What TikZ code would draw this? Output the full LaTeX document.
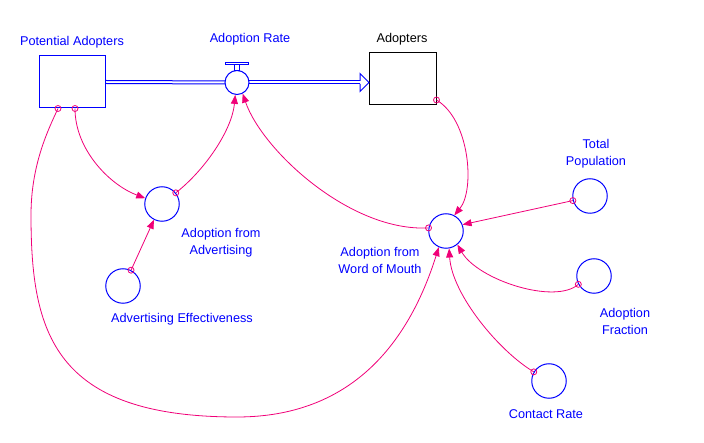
\documentclass[tikz,border=0pt]{standalone}
\usepackage{fontspec}
\setmainfont{Liberation Sans}
\usetikzlibrary{arrows.meta}
\definecolor{vblue}{RGB}{0,0,255}
\definecolor{vlink}{RGB}{240,0,120}
\begin{document}
\begin{tikzpicture}[x=1pt,y=-1pt,
  every node/.style={font=\fontsize{12.7}{17}\selectfont},
  stock/.style={draw=vblue, line width=1pt, minimum width=66pt, minimum height=52pt, inner sep=0pt},
  aux/.style={circle, draw=vblue, line width=1pt, minimum size=34.5pt, inner sep=0pt},
  valve/.style={circle, draw=vblue, fill=white, line width=1pt, minimum size=24pt, inner sep=0pt},
  lbl/.style={text=vblue, align=center, inner sep=0pt},
  pipe/.style={draw=vblue, line width=1pt},
  link/.style={draw=vlink, line width=0.8pt, -{Triangle[length=9pt,width=7pt]}},
  origin/.style={draw=vlink, line width=0.8pt}
]
\useasboundingbox (0,0) rectangle (704,443);

% stocks
\node[stock] (pa) at (72,82) {};
\node[stock, draw=black, minimum width=67pt] (ad) at (402.5,79) {};

% pipe
\coordinate (tip) at (369,82.5);
\draw[pipe] ([yshift=1.5pt]pa.east) -- (237,81);
\draw[pipe] ([yshift=-1.5pt]pa.east) -- (237,84);
\draw[pipe] (237,81) -- (360,81);
\draw[pipe] (237,84) -- (360,84);
\draw[pipe, line join=miter] (360,81) -- (360,73.5) -- (tip) -- (360,91.5) -- (360,84);

% valve
\node[valve] (rate) at (237,82.5) {};
\draw[pipe, line width=0.8pt] (225,62) rectangle (248,64.5);
\draw[pipe, line width=0.8pt] (234.5,64.5) rectangle (239.5,70.5);

% auxiliaries
\node[aux] (aff) at (162,204) {};
\node[aux] (ae) at (123,286) {};
\node[aux] (wom) at (446,231) {};
\node[aux] (tp) at (590,196) {};
\node[aux] (af) at (594,276) {};
\node[aux] (cr) at (549,381) {};

% labels
\node[lbl] (pal) at (72,42) {Potential Adopters};
\node[lbl] (ratel) at (250,39) {Adoption Rate};
\node[lbl, text=black] (adl) at (402,39) {Adopters};
\node[lbl] (affl) at (221,242.5) {Adoption from\\Advertising};
\node[lbl] (ael) at (182,319) {Advertising Effectiveness};
\node[lbl] (woml) at (380,260.5) {Adoption from\\Word of Mouth};
\node[lbl] (tpl) at (596,153.5) {Total\\Population};
\node[lbl] (afl) at (625,321.5) {Adoption\\Fraction};
\node[lbl] (crl) at (546,414) {Contact Rate};

% connector origins
\coordinate (s1) at ([xshift=3pt]pa.south);
\coordinate (s9) at ([xshift=-14pt]pa.south);
\coordinate (s5) at ([yshift=-21pt]ad.east);

% connectors
\draw[link] (s1) .. controls (75,150) and (110,185) .. (aff.161);
\draw[origin] (s1) circle (3);

\draw[link] (aff.39) .. controls (205,170) and (232,130) .. (rate.-98);
\draw[origin] (aff.39) circle (3);

\draw[link] (ae.63) -- (aff.-117);
\draw[origin] (ae.63) circle (3);

\draw[link] (wom.170) .. controls (350,232) and (262,150) .. (rate.-63);
\draw[origin] (wom.170) circle (3);

\draw[link] (s5) .. controls (470,120) and (475,190) .. (wom.62);
\draw[origin] (s5) circle (3);

\draw[link] (tp.195) -- (wom.21);
\draw[origin] (tp.195) circle (3);

\draw[link] (af.208) .. controls (555,305) and (478,280) .. (wom.-50);
\draw[origin] (af.208) circle (3);

\draw[link] (cr.149) .. controls (500,352) and (452,295) .. (wom.-80);
\draw[origin] (cr.149) circle (3);

\draw[link] (s9) .. controls (48,130) and (31,165) .. (31,215)
  .. controls (31,332) and (53,417) .. (237,417)
  .. controls (350,417) and (408,345) .. (wom.-114);
\draw[origin] (s9) circle (3);
\end{tikzpicture}
\end{document}
